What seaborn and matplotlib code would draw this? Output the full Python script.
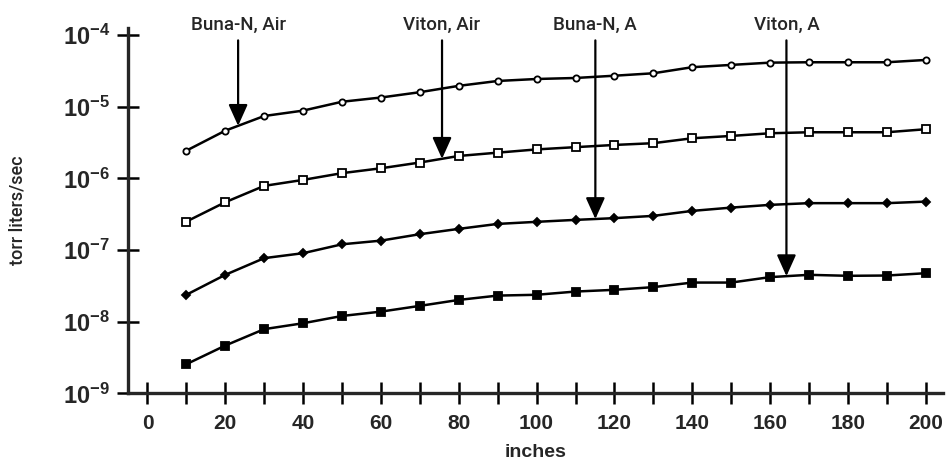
import numpy as np
import matplotlib
matplotlib.use('Agg')
import matplotlib.pyplot as plt
from matplotlib.ticker import MultipleLocator, FixedLocator, FuncFormatter, NullLocator
import seaborn as sns

# leak rate vs. length of o-ring
inches = [10, 20, 30, 40, 50, 60, 70, 80, 90, 100,
          110, 120, 130, 140, 150, 160, 170, 180, 190, 200]
buna_air = [2.43e-6, 4.62e-6, 7.4e-6, 8.8e-6, 1.17e-5, 1.34e-5, 1.59e-5, 1.95e-5, 2.28e-5, 2.43e-5,
            2.51e-5, 2.70e-5, 2.92e-5, 3.55e-5, 3.82e-5, 4.11e-5, 4.16e-5, 4.16e-5, 4.16e-5, 4.48e-5]
viton_air = [2.49e-7, 4.64e-7, 7.84e-7, 9.5e-7, 1.18e-6, 1.38e-6, 1.66e-6, 2.05e-6, 2.28e-6, 2.53e-6,
             2.72e-6, 2.92e-6, 3.09e-6, 3.62e-6, 3.90e-6, 4.25e-6, 4.39e-6, 4.39e-6, 4.39e-6, 4.84e-6]
buna_a = [2.37e-8, 4.50e-8, 7.69e-8, 9.02e-8, 1.20e-7, 1.35e-7, 1.66e-7, 1.97e-7, 2.31e-7, 2.47e-7,
          2.63e-7, 2.78e-7, 2.99e-7, 3.51e-7, 3.90e-7, 4.26e-7, 4.50e-7, 4.50e-7, 4.50e-7, 4.73e-7]
viton_a = [2.55e-9, 4.64e-9, 7.86e-9, 9.5e-9, 1.20e-8, 1.38e-8, 1.66e-8, 2.01e-8, 2.31e-8, 2.37e-8,
           2.63e-8, 2.78e-8, 3.03e-8, 3.51e-8, 3.51e-8, 4.18e-8, 4.50e-8, 4.36e-8, 4.40e-8, 4.74e-8]

labels = ['Buna-N, Air', 'Viton, Air', 'Buna-N, A', 'Viton, A']
arrow_x = [23.3, 75.7, 115.1, 164.2]
decades = [1e-9, 1e-8, 1e-7, 1e-6, 1e-5, 1e-4]

sns.set_style('ticks')
plt.rcParams['font.family'] = ['Liberation Sans', 'DejaVu Sans']
plt.rcParams['mathtext.fontset'] = 'custom'
plt.rcParams['mathtext.rm'] = 'Liberation Sans:bold'
plt.rcParams['mathtext.bf'] = 'Liberation Sans:bold'
medium = ['Roboto', 'Liberation Sans', 'DejaVu Sans']

fig = plt.figure(figsize=(9.48, 4.63), dpi=100)
ax = fig.add_axes([0.135, 0.1505, 0.86, 0.789])

series = [buna_air, viton_air, buna_a, viton_a]
styles = [('o', 'white', 4.5), ('s', 'white', 5.5), ('D', 'black', 3.8), ('s', 'black', 5.5)]
for vals, (mk, fc, ms) in zip(series, styles):
    sns.lineplot(x=inches, y=vals, ax=ax, color='black', lw=1.8,
                 marker=mk, mfc=fc, mec='black', ms=ms, mew=1.3)

ax.set_yscale('log')
ax.set_xlim(-5, 204.5)
ax.set_ylim(1e-9, 1.25e-4)

# arrows pointing down at each curve
for lab, xa, vals in zip(labels, arrow_x, series):
    ytip = 10 ** np.interp(xa, inches, np.log10(vals))
    ax.annotate('', xy=(xa, ytip), xytext=(xa, 8.4e-5),
                arrowprops=dict(arrowstyle='-|>,head_length=1.0,head_width=0.45',
                                mutation_scale=13, color='black', lw=1.6,
                                shrinkA=0, shrinkB=0))
    ax.text(xa, 1.4e-4, lab, ha='center', va='center', fontsize=13.5,
            family=medium, fontweight='medium', clip_on=False)

sns.despine(ax=ax)
for s in ['left', 'bottom']:
    ax.spines[s].set_linewidth(2.4)

ax.yaxis.set_major_locator(FixedLocator(decades))
ax.yaxis.set_minor_locator(NullLocator())
ax.yaxis.set_major_formatter(FuncFormatter(lambda v, p: r'$\mathbf{10^{%d}}$' % round(np.log10(v))))
ax.xaxis.set_major_locator(MultipleLocator(20))
ax.xaxis.set_minor_locator(MultipleLocator(10))
ax.tick_params(which='both', direction='inout', length=16, width=1.8, color='black')
ax.tick_params(axis='x', labelsize=15, pad=7)
ax.tick_params(axis='y', labelsize=17, pad=5)
for t in ax.get_xticklabels():
    t.set_fontweight('bold')

ax.set_xlabel('inches', fontsize=14, fontweight='bold', labelpad=8)
ax.set_ylabel('torr liters/sec', fontsize=13, family=medium, fontweight='medium', labelpad=26)

fig.savefig('out.png', dpi=100)
